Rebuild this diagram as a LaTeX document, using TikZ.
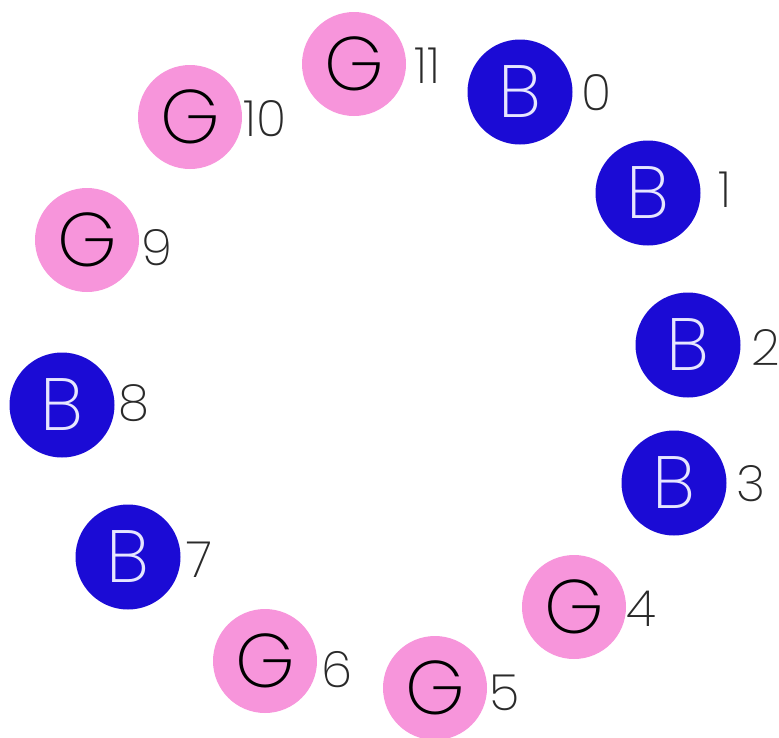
\documentclass[tikz,border=0pt]{standalone}
\usepackage{fontspec}
\setmainfont{Poppins ExtraLight}
\definecolor{bblue}{HTML}{1B0BD5}
\definecolor{gpink}{HTML}{F795DB}
\definecolor{btext}{HTML}{E6E6FF}
\definecolor{lbl}{HTML}{2A2A2A}
\begin{document}
\begin{tikzpicture}[x=1pt,y=-1pt,
  bnode/.style={circle,fill=bblue,text=btext,minimum size=105pt,inner sep=0pt,font=\fontsize{74}{74}\selectfont},
  gnode/.style={circle,fill=gpink,text=black,minimum size=104pt,inner sep=0pt,font=\fontsize{76}{76}\selectfont},
  idx/.style={anchor=center,text=lbl,inner sep=0pt,font=\fontsize{50}{50}\selectfont}]
\useasboundingbox (0,0) rectangle (779,737);
\node[bnode] (n0) at (520,92) {B};
\node[bnode] (n1) at (648,193) {B};
\node[bnode] (n2) at (688,345) {B};
\node[bnode] (n3) at (674,483) {B};
\node[gnode] (n4) at (574,607) {G};
\node[gnode] (n5) at (435,688) {G};
\node[gnode] (n6) at (265,661) {G};
\node[bnode] (n7) at (128,557) {B};
\node[bnode] (n8) at (62,405) {B};
\node[gnode] (n9) at (87,240) {G};
\node[gnode] (n10) at (190,117) {G};
\node[gnode] (n11) at (354,64) {G};
\node[idx] (l0) at (597,93) {0};
\node[idx] (l1) at (725,190) {1};
\node[idx] (l2) at (766,347) {2};
\node[idx] (l3) at (751,484) {3};
\node[idx] (l4) at (641,609) {4};
\node[idx] (l5) at (505,693) {5};
\node[idx] (l6) at (337,670) {6};
\node[idx] (l7) at (199,560) {7};
\node[idx] (l8) at (134,403) {8};
\node[idx] (l9) at (157,248) {9};
\node[idx] (l10) at (265,119) {10};
\node[idx] (l11) at (427,66) {11};
\end{tikzpicture}
\end{document}
